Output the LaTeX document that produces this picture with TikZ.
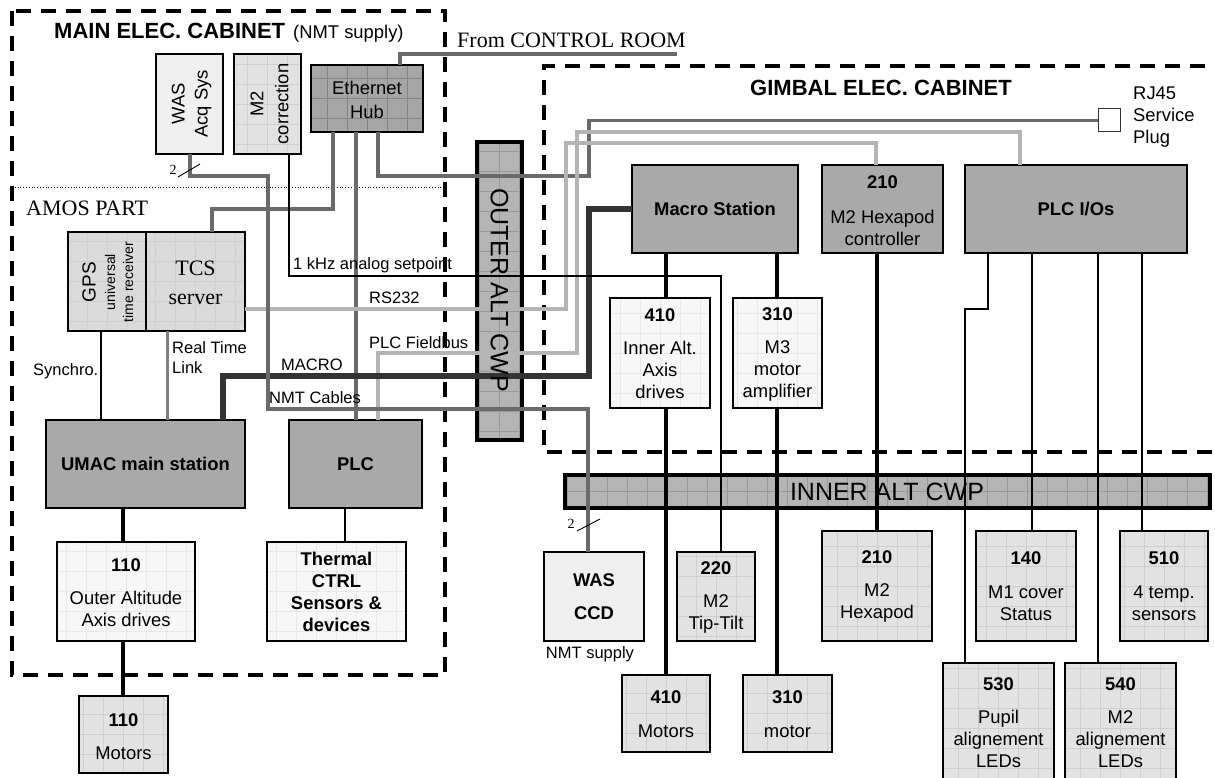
\documentclass[tikz,border=0pt]{standalone}
\usepackage{fontspec}
\setmainfont{Liberation Sans}
\newfontfamily\seriffont{Liberation Serif}
\newcommand\fs[1]{\fontsize{#1}{#1}\selectfont}
\newcommand\fsb[2]{\fontsize{#1}{#2}\selectfont}
\definecolor{wdark}{HTML}{6A6A6A}
\definecolor{wlight}{HTML}{B4B4B4}
\definecolor{cmacro}{HTML}{333333}
\definecolor{crt}{HTML}{808080}
\definecolor{cdark}{HTML}{A9A9A9}
\definecolor{cplain}{HTML}{EFEFEF}
\definecolor{clight}{HTML}{E2E2E2}
\definecolor{cgridl}{HTML}{CFCFCF}
\definecolor{cwhite}{HTML}{F7F7F7}
\definecolor{cgridw}{HTML}{E8E8E8}
\definecolor{chub}{HTML}{A6A6A6}
\definecolor{cgridh}{HTML}{858585}
\definecolor{ccwp}{HTML}{B4B4B4}
\definecolor{cgridc}{HTML}{999999}
\definecolor{cgps}{HTML}{DADADA}
\begin{document}
\begin{tikzpicture}[x=1pt,y=-1pt,
  box/.style={draw=black, line width=1.3pt, inner sep=0pt, outer sep=0pt, anchor=north west},
  gridded/.style={path picture={\draw[#1, line width=0.6pt, step=20pt] (path picture bounding box.south west) grid (path picture bounding box.north east);}},
  dk/.style={box, fill=cdark},
  lp/.style={box, fill=cplain},
  lg/.style={box, fill=clight, gridded=cgridl},
  gp/.style={box, fill=cgps, gridded=cgridl},
  wg/.style={box, fill=cwhite, gridded=cgridw},
  hubst/.style={box, fill=chub, gridded=cgridh},
  cwp/.style={box, line width=4pt, fill=ccwp, gridded=cgridc},
  wdk/.style={draw=wdark, line width=3.5pt},
  wlt/.style={draw=wlight, line width=3.5pt},
  wmac/.style={draw=cmacro, line width=6pt},
  wrt/.style={draw=crt, line width=3pt},
  wthick/.style={draw=black, line width=4pt},
  wthin/.style={draw=black, line width=1.3pt},
  cab/.style={draw=black, line width=3.5pt, dash pattern=on 15pt off 10pt},
  tx/.style={inner sep=0pt, align=center, font=\fsb{18.4}{22}},
  lbl/.style={inner sep=0pt, font=\fs{16.5}, anchor=west},
]
\useasboundingbox (0,0) rectangle (1215,778);
\clip (0,0) rectangle (1215,778);
\fill[white] (0,0) rectangle (1215,778);

% cabinets
\draw[cab] (12,11) rectangle (445,675);
\draw[cab] (1230,66) -- (544,66) -- (544,452) -- (1230,452);
\draw[black, line width=0.8pt, dotted] (12,187) -- (445,187);

% boxes
\node[lp, minimum width=67pt, minimum height=100pt] (wasacq) at (156,54) {};
\node[lg, minimum width=67pt, minimum height=100pt] (m2corr) at (234,54) {};
\node[hubst, minimum width=112pt, minimum height=67pt] (hub) at (311,65) {};
\node[gp, minimum width=78pt, minimum height=99pt] (gps) at (68,232) {};
\node[gp, minimum width=99pt, minimum height=99pt] (tcs) at (146,232) {};
\node[dk, minimum width=199pt, minimum height=88pt] (umac) at (46,420) {};
\node[dk, minimum width=133pt, minimum height=88pt] (plc) at (289,420) {};
\node[wg, minimum width=139pt, minimum height=99pt] (thermal) at (267,542) {};
\node[wg, minimum width=138pt, minimum height=99pt] (outer110) at (57,542) {};
\node[lg, minimum width=89pt, minimum height=77pt] (motors110) at (79,696) {};
\node[cwp, minimum width=45pt, minimum height=298pt] (outercwp) at (477,142) {};
\node[cwp, minimum width=645pt, minimum height=33pt] (innercwp) at (565,475) {};
\node[dk, minimum width=166pt, minimum height=88pt] (macro) at (632,165) {};
\node[dk, minimum width=121pt, minimum height=88pt] (hexctrl) at (822,165) {};
\node[dk, minimum width=222pt, minimum height=88pt] (plcio) at (965,165) {};
\node[box, fill=white, draw=black!80, line width=1pt, minimum width=22pt, minimum height=23pt] (rj45) at (1098,109) {};
\node[wg, minimum width=100pt, minimum height=110pt] (inner410) at (610,298) {};
\node[wg, minimum width=89pt, minimum height=110pt] (amp310) at (733,298) {};
\node[lp, minimum width=100pt, minimum height=89pt] (wasccd) at (544,552) {};
\node[lg, minimum width=78pt, minimum height=89pt] (tt220) at (677,552) {};
\node[lg, minimum width=110pt, minimum height=110pt] (hex210) at (822,531) {};
\node[lg, minimum width=100pt, minimum height=110pt] (cover140) at (976,531) {};
\node[lg, minimum width=88pt, minimum height=110pt] (temp510) at (1120,531) {};
\node[lg, minimum width=88pt, minimum height=77pt] (motors410) at (622,675) {};
\node[lg, minimum width=89pt, minimum height=77pt] (motor310) at (743,675) {};
\node[lg, minimum width=111pt, minimum height=130pt] (pupil530) at (943,663) {};
\node[lg, minimum width=111pt, minimum height=130pt] (led540) at (1065,663) {};

% wires
\coordinate (ctrlroom) at (677,54);
\draw[wdk] (hub.north -| 400,0) |- (ctrlroom);
\draw[wdk] (hub.south -| 333,0) |- (212,209) -- (tcs.north -| 212,0);
\draw[wdk] (hub.south -| 356,0) -- (plc.north -| 356,0);
\draw[wdk] (hub.south -| 378,0) |- (589,176) |- (rj45.west);
\draw[wlt] (tcs.east |- 0,309) -| (566,143) -| (hexctrl.north -| 876,0);
\draw[wlt] (plc.north -| 378,0) |- (577,353) |- (1020,132) -- (plcio.north -| 1020,0);
\draw[wmac] (umac.north -| 223,0) |- (589,376) |- (macro.west);
\draw[wdk] (wasacq.south -| 190,0) |- (268,176) |- (588,409) -- (wasccd.north -| 588,0);
\draw[wthin] (m2corr.south -| 289,0) |- (721,276) -- (tt220.north -| 721,0);
\draw[wthin] (gps.south -| 101,0) -- (umac.north -| 101,0);
\draw[wrt] (tcs.south -| 167,0) -- (umac.north -| 167,0);
\draw[wthick] (umac.south -| 123,0) -- (outer110.north -| 123,0);
\draw[wthick] (outer110.south -| 123,0) -- (motors110.north -| 123,0);
\draw[wthin] (plc.south -| 345,0) -- (thermal.north -| 345,0);
\draw[wthick] (macro.south -| 666,0) -- (inner410.north -| 666,0);
\draw[wthick] (inner410.south -| 666,0) -- (motors410.north -| 666,0);
\draw[wthick] (macro.south -| 777,0) -- (amp310.north -| 777,0);
\draw[wthick] (amp310.south -| 777,0) -- (motor310.north -| 777,0);
\draw[wthick] (hexctrl.south -| 877,0) -- (hex210.north -| 877,0);
\draw[wthin] (plcio.south -| 988,0) |- (965,309) -- (pupil530.north -| 965,0);
\draw[wthin] (plcio.south -| 1032,0) -- (cover140.north -| 1032,0);
\draw[wthin] (plcio.south -| 1098,0) -- (led540.north -| 1098,0);
\draw[wthin] (plcio.south -| 1142,0) -- (temp510.north -| 1142,0);
% bundle marks
\coordinate (s1a) at (178,177); \coordinate (s1b) at (200,164);
\draw[black, line width=0.9pt] (s1a) -- (s1b);
\coordinate (s2a) at (577,531); \coordinate (s2b) at (600,519);
\draw[black, line width=0.9pt] (s2a) -- (s2b);
\node[inner sep=0pt, font=\seriffont\fs{14}] (n2a) at (173,170) {2};
\node[inner sep=0pt, font=\seriffont\fs{14}] (n2b) at (571,524) {2};

% titles
\node[inner sep=0pt, anchor=base west] (tmain) at (54,39) {{\bfseries\fs{22}MAIN ELEC. CABINET}\hspace{8pt}{\fs{18.4}(NMT supply)}};
\node[inner sep=0pt, anchor=base, font=\bfseries\fs{22}] (tgimbal) at (881,96) {GIMBAL ELEC. CABINET};
\node[inner sep=0pt, anchor=base west, font=\seriffont\fs{22}] (tamos) at (26,215) {AMOS PART};
\node[inner sep=0pt, anchor=base west, font=\seriffont\fs{22}] (tfrom) at (457,48) {From CONTROL ROOM};

% box texts
\node[tx, rotate=90, font=\fsb{18.4}{23}] (twasacq) at (191.5,104) {WAS\\Acq Sys};
\node[tx, rotate=90, font=\fsb{18.4}{25}] (tm2corr) at (269.5,104) {M2\\correction};
\node[tx, font=\fsb{18.4}{24}] (thub) at (367,100) {Ethernet\\Hub};
\node[tx, font=\seriffont\fsb{22}{29}] (ttcs) at (195.5,282.5) {TCS\\server};
\node[tx, rotate=90, font=\fs{19}] (tgps) at (89,282) {GPS};
\node[tx, rotate=90, font=\fs{14}] (tuniv) at (110,282) {universal};
\node[tx, rotate=90, font=\fs{14}] (ttime) at (128,282) {time receiver};
\node[tx, font=\bfseries\fs{18.4}] (tumac) at (145.5,464) {UMAC main station};
\node[tx, font=\bfseries\fs{18.4}] (tplc) at (355.5,464) {PLC};
\node[tx, font=\bfseries\fsb{18.4}{22}] (tthermal) at (336.5,591.5) {Thermal\\CTRL\\Sensors \&\\devices};
\node[tx] (touter) at (126,592.5) {\textbf{110}\\[11pt]Outer Altitude\\Axis drives};
\node[tx] (tmot110) at (123.5,736.5) {\textbf{110}\\[11pt]Motors};
\node[tx, font=\bfseries\fs{18.4}] (tmacro) at (715,209) {Macro Station};
\node[tx] (thexctrl) at (882.5,211) {\textbf{210}\\[13pt]M2 Hexapod\\controller};
\node[tx, font=\bfseries\fs{18.4}] (tplcio) at (1076,209) {PLC I/Os};
\node[tx] (tinner) at (660,354) {\textbf{410}\\[11pt]Inner Alt.\\Axis\\drives};
\node[tx] (tamp) at (777.5,354) {\textbf{310}\\[11pt]M3\\motor\\amplifier};
\node[tx, font=\bfseries\fsb{18.4}{22}] (twasccd) at (594,596.5) {WAS\\[11pt]CCD};
\node[tx] (ttt) at (716,597.5) {\textbf{220}\\[11pt]M2\\Tip-Tilt};
\node[tx] (thex) at (877,586) {\textbf{210}\\[11pt]M2\\Hexapod};
\node[tx] (tcover) at (1026,586.5) {\textbf{140}\\[12pt]M1 cover\\Status};
\node[tx] (ttemp) at (1164,586.5) {\textbf{510}\\[12pt]4 temp.\\sensors};
\node[tx] (tmot410) at (666,714) {\textbf{410}\\[12pt]Motors};
\node[tx] (tmot310) at (787.5,714) {\textbf{310}\\[12pt]motor};
\node[tx] (tpupil) at (998.5,722.5) {\textbf{530}\\[11pt]Pupil\\alignement\\LEDs};
\node[tx] (tled) at (1120.5,722.5) {\textbf{540}\\[11pt]M2\\alignement\\LEDs};
\node[tx, rotate=-90, font=\fs{25}] (touterc) at (499.5,290) {OUTER ALT CWP};
\node[tx, font=\fs{25}] (tinnerc) at (887,491.5) {INNER ALT CWP};
\node[inner sep=0pt, anchor=west, align=left, font=\fsb{18.4}{22}] (trj) at (1133,117) {RJ45\\Service\\Plug};

% wire labels
\node[lbl] (l1k) at (293,265) {1 kHz analog setpoint};
\node[lbl] (lrs) at (369,298) {RS232};
\node[lbl] (lfb) at (369,343) {PLC Fieldbus};
\node[lbl] (lmac) at (281,365) {MACRO};
\node[lbl] (lnmt) at (269,398) {NMT Cables};
\node[lbl] (lsyn) at (33,371) {Synchro.};
\node[lbl, align=left, font=\fsb{16.5}{20}] (lrt) at (172,358) {Real Time\\Link};
\node[inner sep=0pt, font=\fs{16.5}] (lsup) at (590,654) {NMT supply};
\end{tikzpicture}
\end{document}
